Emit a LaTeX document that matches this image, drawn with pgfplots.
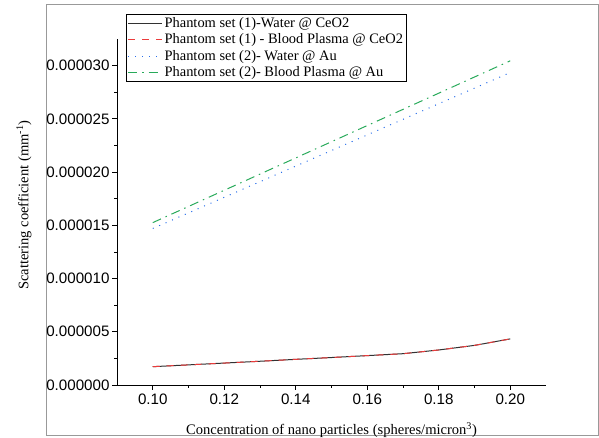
\documentclass[border=0pt]{standalone}
\usepackage{pgfplots}
\pgfplotsset{compat=1.18}
\usepackage{fontspec}
\setmainfont{Liberation Serif}
\newfontfamily\arialf{Liberation Sans}
\definecolor{cblack}{RGB}{50,50,50}
\definecolor{cred}{RGB}{235,60,60}
\definecolor{cblue}{RGB}{40,110,235}
\definecolor{cgreen}{RGB}{40,170,90}
\begin{document}
\begin{tikzpicture}[x=1bp,y=1bp]
\path[use as bounding box] (0,0) rectangle (599,438);
\draw[gray!80, line width=1bp] (46,2) rectangle (598,433);
\begin{axis}[
  at={(117bp,53bp)}, anchor=south west,
  scale only axis, width=429bp, height=346bp,
  xmin=0.09, xmax=0.21, ymin=0, ymax=3.25e-5,
  axis x line*=bottom, axis y line*=left,
  axis line style={line width=0.9bp, black},
  xtick={0.10,0.12,0.14,0.16,0.18,0.20},
  ytick={0,5e-6,10e-6,15e-6,20e-6,25e-6,30e-6},
  minor x tick num=1, minor y tick num=1,
  tick align=outside,
  major tick length=5bp, minor tick length=3bp,
  every tick/.style={black, line width=0.8bp},
  scaled y ticks=false, scaled x ticks=false,
  xticklabel style={/pgf/number format/.cd, fixed, fixed zerofill, precision=2},
  yticklabel style={xshift=1bp, /pgf/number format/.cd, fixed, fixed zerofill, precision=6},
  /pgf/number format/assume math mode=true,
  tick label style={font=\arialf\fontsize{15.2}{15}\selectfont},
  xlabel={Concentration of nano particles (spheres/micron\textsuperscript{3})},
  ylabel={Scattering coefficient (mm\textsuperscript{-1})},
  label style={font=\fontsize{14.6}{15}\selectfont},
  xlabel style={at={(axis description cs:0.5,0)}, anchor=center, yshift=-45bp},
  ylabel style={at={(axis description cs:-0.217,0.52)}, anchor=center},
  legend style={at={(axis description cs:0.021,1.072)}, anchor=north west,
    font=\fontsize{14.5}{17.5}\selectfont, draw=black, line width=0.8bp,
    inner sep=1.2bp, row sep=0.8bp, cells={anchor=west}},
  legend image code/.code={\draw[#1] plot coordinates {(0bp,0bp) (17bp,0bp) (34bp,0bp)};},
]
\addplot[cblack, line width=1bp] coordinates {
(0.10,1.72e-6) (0.11,1.89e-6) (0.12,2.06e-6) (0.13,2.23e-6) (0.14,2.41e-6)
(0.15,2.58e-6) (0.16,2.76e-6) (0.17,2.94e-6) (0.18,3.29e-6) (0.19,3.72e-6) (0.20,4.33e-6)};
\addlegendentry{Phantom set (1)-Water @ CeO2}
\addplot[cred, line width=1bp, dash pattern=on 7bp off 7bp] coordinates {
(0.10,1.72e-6) (0.11,1.89e-6) (0.12,2.06e-6) (0.13,2.23e-6) (0.14,2.41e-6)
(0.15,2.58e-6) (0.16,2.76e-6) (0.17,2.94e-6) (0.18,3.29e-6) (0.19,3.72e-6) (0.20,4.33e-6)};
\addlegendentry{Phantom set (1) - Blood Plasma @ CeO2}
\addplot[cblue, line width=1bp, dash pattern=on 1bp off 6bp] coordinates {
(0.10,1.470e-5) (0.20,2.935e-5)};
\addlegendentry{Phantom set (2)- Water @ Au}
\addplot[cgreen, line width=1bp, dash pattern=on 9bp off 5bp on 1.5bp off 5bp] coordinates {
(0.10,1.525e-5) (0.20,3.045e-5)};
\addlegendentry{Phantom set (2)- Blood Plasma @ Au}
\end{axis}
\end{tikzpicture}
\end{document}
